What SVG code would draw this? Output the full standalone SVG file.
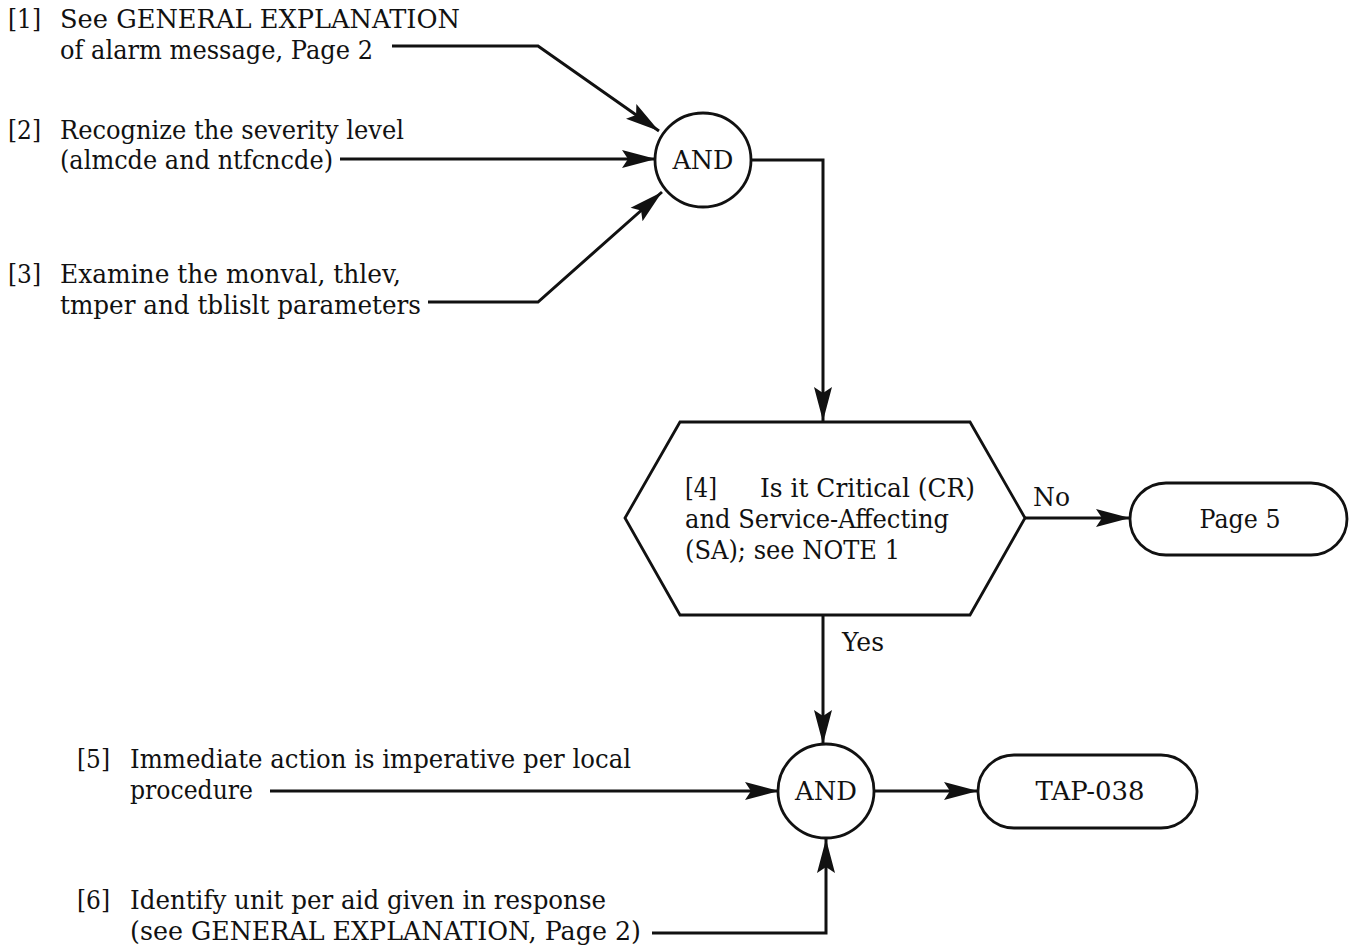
<svg xmlns="http://www.w3.org/2000/svg" width="1350" height="949" viewBox="0 0 1350 949">
  <style>
    text { font-family: "DejaVu Serif", "Liberation Serif", serif; font-size: 26px; fill: #111; }
    .c { text-anchor: middle; }
    .shape { fill: #fff; stroke: #111; stroke-width: 2.8; }
    .wire { fill: none; stroke: #111; stroke-width: 3; }
  </style>
  <defs>
    <marker id="arrow" markerUnits="userSpaceOnUse" markerWidth="36" markerHeight="20" refX="34" refY="10" orient="auto">
      <path d="M0,1 L34,10 L0,19 L6,10 Z" fill="#111"/>
    </marker>
  </defs>
  <rect width="1350" height="949" fill="#fff"/>

  <!-- connectors -->
  <g id="connectors">
    <polyline class="wire" points="392,46 538,46 659,131" marker-end="url(#arrow)"/>
    <polyline class="wire" points="340,159 656,159" marker-end="url(#arrow)"/>
    <polyline class="wire" points="428,302 538,302 662,192" marker-end="url(#arrow)"/>
    <polyline class="wire" points="751,160 823,160 823,421" marker-end="url(#arrow)"/>
    <polyline class="wire" points="1025,518 1130,518" marker-end="url(#arrow)"/>
    <polyline class="wire" points="823,615 823,744" marker-end="url(#arrow)"/>
    <polyline class="wire" points="270,791 779,791" marker-end="url(#arrow)"/>
    <polyline class="wire" points="874,791 978,791" marker-end="url(#arrow)"/>
    <polyline class="wire" points="652,933 826,933 826,839" marker-end="url(#arrow)"/>
    <text x="1033" y="506" textLength="37" lengthAdjust="spacingAndGlyphs">No</text>
    <text x="842" y="651" textLength="42" lengthAdjust="spacingAndGlyphs">Yes</text>
  </g>

  <!-- inputs -->
  <g id="step1">
    <text x="8" y="28" textLength="33" lengthAdjust="spacingAndGlyphs">[1]</text>
    <text x="60" y="28" textLength="400" lengthAdjust="spacingAndGlyphs">See GENERAL EXPLANATION</text>
    <text x="60" y="59" textLength="313" lengthAdjust="spacingAndGlyphs">of alarm message, Page 2</text>
  </g>
  <g id="step2">
    <text x="8" y="139" textLength="33" lengthAdjust="spacingAndGlyphs">[2]</text>
    <text x="60" y="139" textLength="344" lengthAdjust="spacingAndGlyphs">Recognize the severity level</text>
    <text x="60" y="169" textLength="273" lengthAdjust="spacingAndGlyphs">(almcde and ntfcncde)</text>
  </g>
  <g id="step3">
    <text x="8" y="283" textLength="33" lengthAdjust="spacingAndGlyphs">[3]</text>
    <text x="60" y="283" textLength="341" lengthAdjust="spacingAndGlyphs">Examine the monval, thlev,</text>
    <text x="60" y="314" textLength="361" lengthAdjust="spacingAndGlyphs">tmper and tblislt parameters</text>
  </g>

  <g id="and1">
    <ellipse class="shape" cx="703" cy="160" rx="48" ry="47"/>
    <text class="c" x="703" y="169" textLength="61" lengthAdjust="spacingAndGlyphs">AND</text>
  </g>

  <g id="decision4">
    <polygon class="shape" points="680,422 970,422 1025,518 970,615 680,615 625,518"/>
    <text x="685" y="497" textLength="32" lengthAdjust="spacingAndGlyphs">[4]</text>
    <text x="760" y="497" textLength="215" lengthAdjust="spacingAndGlyphs">Is it Critical (CR)</text>
    <text x="685" y="528" textLength="264" lengthAdjust="spacingAndGlyphs">and Service-Affecting</text>
    <text x="685" y="559" textLength="215" lengthAdjust="spacingAndGlyphs">(SA); see NOTE 1</text>
  </g>

  <g id="page5">
    <rect class="shape" x="1130" y="483" width="217" height="72" rx="36" ry="36"/>
    <text class="c" x="1240" y="528" textLength="81" lengthAdjust="spacingAndGlyphs">Page 5</text>
  </g>

  <g id="step5">
    <text x="77" y="768" textLength="33" lengthAdjust="spacingAndGlyphs">[5]</text>
    <text x="130" y="768" textLength="501" lengthAdjust="spacingAndGlyphs">Immediate action is imperative per local</text>
    <text x="130" y="799" textLength="123" lengthAdjust="spacingAndGlyphs">procedure</text>
  </g>
  <g id="step6">
    <text x="77" y="909" textLength="33" lengthAdjust="spacingAndGlyphs">[6]</text>
    <text x="130" y="909" textLength="476" lengthAdjust="spacingAndGlyphs">Identify unit per aid given in response</text>
    <text x="130" y="940" textLength="511" lengthAdjust="spacingAndGlyphs">(see GENERAL EXPLANATION, Page 2)</text>
  </g>

  <g id="and2">
    <ellipse class="shape" cx="826" cy="791" rx="48" ry="47"/>
    <text class="c" x="826" y="800" textLength="62" lengthAdjust="spacingAndGlyphs">AND</text>
  </g>

  <g id="tap038">
    <rect class="shape" x="978" y="755" width="219" height="73" rx="36" ry="36"/>
    <text class="c" x="1090" y="800" textLength="109" lengthAdjust="spacingAndGlyphs">TAP-038</text>
  </g>
</svg>
